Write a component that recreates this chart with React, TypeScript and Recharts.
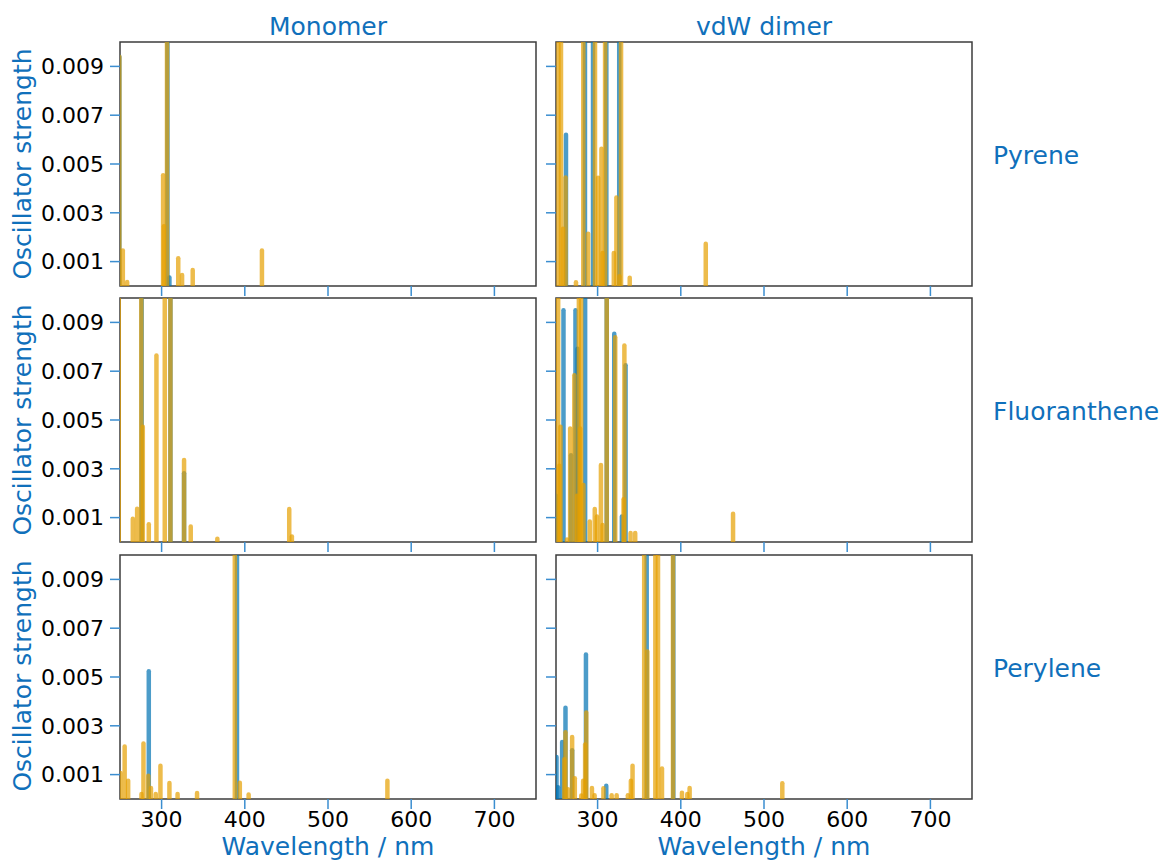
import React from 'react';
import { LineChart, Line, XAxis, YAxis, ReferenceArea } from 'recharts';

// stick spectra: wavelength (nm) + oscillator strength
// blue = first method, orange = second method (drawn on top)

// Pyrene, monomer
const pyrMonoBlueNm = [249.2, 307, 309.4];
const pyrMonoBlueF = [0.0094, 0.03, 0.00035];
const pyrMonoOrangeNm = [249.2, 253.4, 258.6, 301.8, 302.8, 306.5, 320, 324.6, 337.4, 420.6];
const pyrMonoOrangeF = [0.0094, 0.00145, 0.00016, 0.00454, 0.00245, 0.03, 0.00114, 0.00045, 0.00066, 0.00145];

// Pyrene, vdW dimer
const pyrDimBlueNm = [262, 284.8, 294.5, 310.5, 326];
const pyrDimBlueF = [0.0062, 0.03, 0.03, 0.03, 0.03];
const pyrDimOrangeNm = [253, 256, 258.5, 261.5, 274, 282.8, 288.6, 296.9, 300.6, 304.6, 306, 309, 319.5, 322.6, 326.2, 328.2, 338.6, 430];
const pyrDimOrangeF = [0.03, 0.03, 0.00235, 0.00445, 0.00015, 0.03, 0.00214, 0.03, 0.00444, 0.00562, 0.00135, 0.03, 0.00135, 0.00363, 0.0004, 0.03, 0.00034, 0.00173];

// Fluoranthene, monomer
const fluMonoBlueNm = [276, 310.6, 327];
const fluMonoBlueF = [0.03, 0.03, 0.00282];
const fluMonoOrangeNm = [248.5, 265.4, 270.6, 275.6, 277.4, 284.6, 293.8, 303.8, 310.6, 327, 335, 367, 453.4, 456.6];
const fluMonoOrangeF = [0.03, 0.00095, 0.00136, 0.03, 0.00472, 0.00073, 0.00764, 0.03, 0.03, 0.00336, 0.00064, 0.00013, 0.00135, 0.00023];

// Fluoranthene, vdW dimer
const fluDimBlueNm = [250, 259, 268, 273.4, 276, 285, 311, 320, 329.2, 333.6];
const fluDimBlueF = [0.0019, 0.0095, 0.00356, 0.0095, 0.00792, 0.03, 0.03, 0.00853, 0.00105, 0.00724];
const fluDimOrangeNm = [252.6, 254, 255.4, 263.2, 267, 272, 275.2, 277.5, 279, 280.2, 283, 290.6, 296.6, 299.2, 304, 306, 311, 321.2, 331.2, 332.2, 339.6, 345.2, 462.8];
const fluDimOrangeF = [0.03, 0.00312, 0.00472, 0.0001, 0.00465, 0.00683, 0.0019, 0.03, 0.00465, 0.03, 0.00234, 0.00084, 0.00135, 0.00105, 0.00316, 0.0007, 0.03, 0.00839, 0.00175, 0.00805, 0.00037, 0.00037, 0.00116];

// Perylene, monomer
const perMonoBlueNm = [284.6, 390.6];
const perMonoBlueF = [0.00524, 0.03];
const perMonoOrangeNm = [250.6, 255.6, 259.8, 275.8, 278.2, 284, 287.2, 293, 298.6, 309.4, 319.2, 342.6, 388, 394, 404.6, 571.4];
const perMonoOrangeF = [0.00107, 0.00215, 0.00075, 0.0002, 0.00227, 0.00095, 0.00045, 0.0002, 0.00136, 0.00066, 0.0002, 0.00025, 0.03, 0.00067, 0.00018, 0.00075];

// Perylene, vdW dimer
const perDimBlueNm = [250.6, 252.4, 257.4, 261.4, 269.4, 286, 310.4, 359, 391];
const perDimBlueF = [0.00172, 0.00048, 0.00234, 0.00374, 0.002, 0.00592, 0.00054, 0.03, 0.03];
const perDimOrangeNm = [260, 261.4, 264.4, 269.4, 272.6, 280.4, 282.6, 285, 286.4, 293.2, 296.4, 307, 316.9, 322.9, 336.4, 340, 342, 356, 359.8, 369.4, 372.6, 377.4, 390.6, 401.4, 407.8, 410.6, 522];
const perDimOrangeF = [0.00163, 0.00274, 0.0004, 0.00254, 0.00085, 0.00014, 0.00075, 0.00223, 0.00355, 0.00045, 0.00015, 0.00044, 0.00015, 0.00015, 0.00015, 0.00075, 0.00136, 0.03, 0.00605, 0.03, 0.03, 0.00125, 0.03, 0.00026, 0.0002, 0.00045, 0.00065];

const xTicks = [300, 400, 500, 600, 700];
const yTicks = [0.001, 0.003, 0.005, 0.007, 0.009];
const colTitles = ['Monomer', 'vdW dimer'];
const rowTitles = ['Pyrene', 'Fluoranthene', 'Perylene'];

const BLUE = '#0072B2';
const ORANGE = '#E69F00';
const LABEL = '#1070bb';
const TICK = '#3b8ed0';
const FRAME = '#3c3c3c';
const FONT = 'DejaVu Sans';

const PLOT_W = 416;
const PLOT_H = 244;
const colLeft = [120, 556];
const rowTop = [42, 297.5, 555];

interface PanelProps {
  blueNm: number[];
  blueF: number[];
  orangeNm: number[];
  orangeF: number[];
  col: number;
  row: number;
}

const sticks = (nm: number[], f: number[]) =>
  nm.map((x, i) => [{ x, y: 0 }, { x, y: f[i] }]);

const Panel = ({ blueNm, blueF, orangeNm, orangeF, col, row }: PanelProps) => {
  const yw = col === 0 ? 120 : 12;
  const bottom = row === 2;
  const xh = bottom ? 40 : 16;
  const w = yw + PLOT_W + 4;
  const h = 4 + PLOT_H + xh;
  const series = [
    ...sticks(blueNm, blueF).map((d) => ({ d, c: BLUE })),
    ...sticks(orangeNm, orangeF).map((d) => ({ d, c: ORANGE })),
  ];
  return (
    <div style={{ position: 'absolute', left: colLeft[col] - yw, top: rowTop[row] - 4 }}>
      <LineChart width={w} height={h} margin={{ top: 4, right: 4, left: 0, bottom: 0 }}>
        <XAxis
          type="number"
          dataKey="x"
          domain={[250, 750]}
          ticks={xTicks}
          interval={0}
          allowDataOverflow
          height={xh}
          tickSize={10}
          tickMargin={2}
          axisLine={false}
          tickLine={{ stroke: TICK, strokeWidth: 1.5 }}
          tick={{ fill: '#000', fontSize: 22, fontFamily: FONT }}
          tickFormatter={(v: number) => (bottom ? String(v) : '')}
        />
        <YAxis
          type="number"
          domain={[0, 0.01]}
          ticks={yTicks}
          interval={0}
          allowDataOverflow
          width={yw}
          tickSize={10}
          tickMargin={6}
          axisLine={false}
          tickLine={{ stroke: TICK, strokeWidth: 1.5 }}
          tick={{ fill: '#000', fontSize: 22, fontFamily: FONT }}
          tickFormatter={(v: number) => (col === 0 ? v.toFixed(3) : '')}
        />
        {series.map((s, i) => (
          <Line
            key={i}
            data={s.d}
            dataKey="y"
            stroke={s.c}
            strokeOpacity={0.7}
            strokeWidth={4.5}
            strokeLinecap="round"
            dot={false}
            activeDot={false}
            isAnimationActive={false}
          />
        ))}
        <ReferenceArea
          x1={250}
          x2={750}
          y1={0}
          y2={0.01}
          fill="none"
          stroke={FRAME}
          strokeWidth={1.5}
          ifOverflow="visible"
        />
      </LineChart>
    </div>
  );
};

const panels = [
  [pyrMonoBlueNm, pyrMonoBlueF, pyrMonoOrangeNm, pyrMonoOrangeF, 0, 0],
  [pyrDimBlueNm, pyrDimBlueF, pyrDimOrangeNm, pyrDimOrangeF, 1, 0],
  [fluMonoBlueNm, fluMonoBlueF, fluMonoOrangeNm, fluMonoOrangeF, 0, 1],
  [fluDimBlueNm, fluDimBlueF, fluDimOrangeNm, fluDimOrangeF, 1, 1],
  [perMonoBlueNm, perMonoBlueF, perMonoOrangeNm, perMonoOrangeF, 0, 2],
  [perDimBlueNm, perDimBlueF, perDimOrangeNm, perDimOrangeF, 1, 2],
] as const;

const rowLabelY = [164, 420, 677];
const yLabelY = [164, 420, 676];

export default function App() {
  return (
    <div style={{ position: 'absolute', left: 0, top: 0, width: 1161, height: 861, background: '#fff', overflow: 'hidden' }}>
      {panels.map((p, i) => (
        <Panel
          key={i}
          blueNm={p[0] as number[]}
          blueF={p[1] as number[]}
          orangeNm={p[2] as number[]}
          orangeF={p[3] as number[]}
          col={p[4] as number}
          row={p[5] as number}
        />
      ))}
      <svg width={1161} height={861} style={{ position: 'absolute', left: 0, top: 0, pointerEvents: 'none' }}>
        <g fontFamily={FONT} fontSize={25} fill={LABEL}>
          {colTitles.map((t, i) => (
            <text key={t} x={colLeft[i] + PLOT_W / 2} y={35} textAnchor="middle">{t}</text>
          ))}
          {rowTitles.map((t, i) => (
            <text key={t} x={993} y={rowLabelY[i]}>{t}</text>
          ))}
          {yLabelY.map((y, i) => (
            <text key={i} x={31} y={y} textAnchor="middle" transform={`rotate(-90 31 ${y})`}>Oscillator strength</text>
          ))}
          {colLeft.map((x, i) => (
            <text key={i} x={x + PLOT_W / 2} y={855} textAnchor="middle">Wavelength / nm</text>
          ))}
        </g>
      </svg>
    </div>
  );
}
